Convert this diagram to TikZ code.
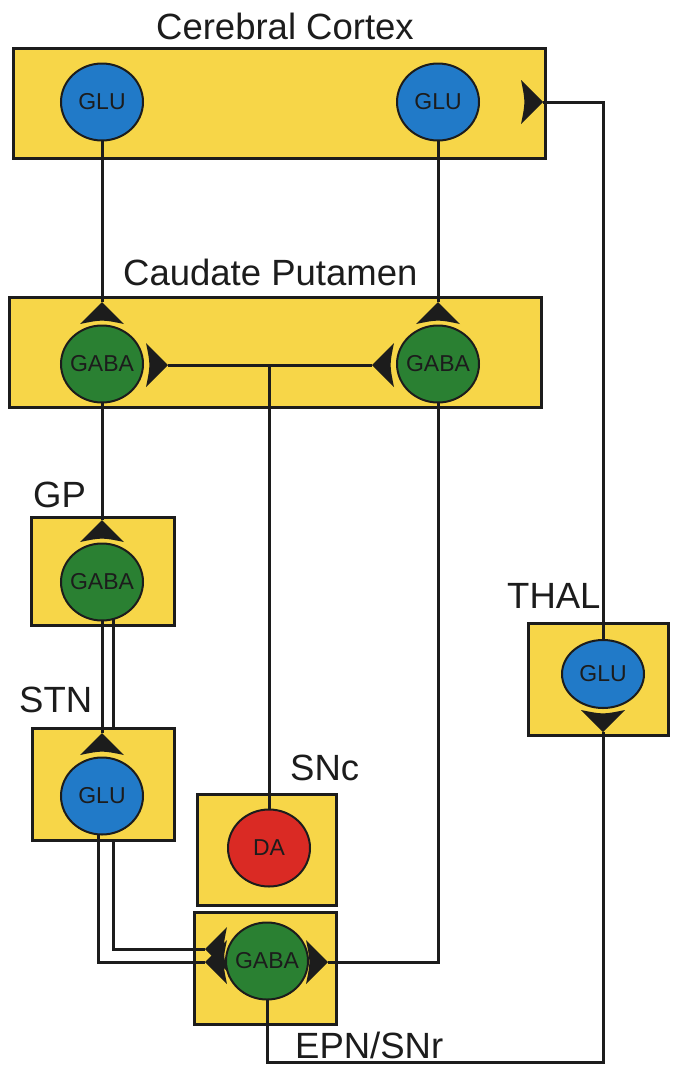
\documentclass[tikz,border=0pt]{standalone}
\usepackage{fontspec}
\setmainfont{Liberation Sans}
\usetikzlibrary{shapes.geometric,calc}
\definecolor{boxyellow}{RGB}{247,214,72}
\definecolor{glublue}{RGB}{33,122,200}
\definecolor{gabagreen}{RGB}{42,128,50}
\definecolor{dared}{RGB}{218,42,36}
\definecolor{ink}{RGB}{28,28,28}
\newcommand\ntext[1]{\makebox[0pt]{#1}}
\tikzset{
  box/.style={draw=ink, line width=3bp, fill=boxyellow, inner sep=0pt, outer sep=0pt},
  neuron/.style={ellipse, draw=ink, line width=2bp, inner sep=0pt, outer sep=0pt,
    minimum width=82bp, minimum height=77bp, font=\fontsize{23bp}{26bp}\selectfont, text=ink},
  title/.style={font=\fontsize{36.5bp}{40bp}\selectfont, inner sep=0pt, anchor=base west, text=ink},
  wire/.style={line width=3bp, draw=ink},
  term/.pic={\fill[ink] (0,0) -- (-22,-22) .. controls (-17.5,0) .. (-22,22) -- cycle;}
}
\begin{document}
\begin{tikzpicture}[x=1bp,y=-1bp]
\fill[white] (0,0) rectangle (674,1066);
\useasboundingbox (0,0) rectangle (674,1066);

% boxes
\node[box, minimum width=531bp, minimum height=110bp] (ctxbox) at (279.5,103) {};
\node[box, minimum width=531bp, minimum height=110bp] (cpbox) at (275.5,352) {};
\node[box, minimum width=142bp, minimum height=108bp] (gpbox) at (103,571) {};
\node[box, minimum width=141bp, minimum height=112bp] (stnbox) at (103.5,784) {};
\node[box, minimum width=139bp, minimum height=111bp] (sncbox) at (266.5,849.5) {};
\node[box, minimum width=142bp, minimum height=112bp] (epbox) at (265,968) {};
\node[box, minimum width=140bp, minimum height=112bp] (thbox) at (598,679) {};

% neuron positions
\coordinate (pc1) at (102,102);
\coordinate (pc2) at (438,102);
\coordinate (pg1) at (102,364);
\coordinate (pg2) at (438,364);
\coordinate (pgp) at (102,582);
\coordinate (pstn) at (102,796);
\coordinate (pda) at (269,848);
\coordinate (pep) at (267,961);
\coordinate (pth) at (603,674);

% neurons (invisible first so wires can refer to them)
\node[neuron, draw=none] (c1) at (pc1) {};
\node[neuron, draw=none] (c2) at (pc2) {};
\node[neuron, draw=none] (g1) at (pg1) {};
\node[neuron, draw=none] (g2) at (pg2) {};
\node[neuron, draw=none] (gp) at (pgp) {};
\node[neuron, draw=none] (stn) at (pstn) {};
\node[neuron, draw=none] (da) at (pda) {};
\node[neuron, draw=none] (ep) at (pep) {};
\node[neuron, draw=none, minimum height=68bp] (th) at (pth) {};

% terminal tips
\coordinate (tc) at (543,102);
\coordinate (tg1) at (102,302);
\coordinate (tg2) at (438,302);
\coordinate (tg1r) at (168,365);
\coordinate (tg2l) at (372,365);
\coordinate (tgp) at (102,520);
\coordinate (tstn) at (102,733);
\coordinate (tth) at (603,732);
\coordinate (te1) at (205,949);
\coordinate (te2) at (205,962);
\coordinate (ter) at (328,962);
\coordinate (bl) at (267,1062);

% wires
\draw[wire] (c1) -- (tg1);
\draw[wire] (c2) -- (tg2);
\draw[wire] (th) |- (tc);
\draw[wire] (ep) -- (bl) -| (tth);
\draw[wire] (tg1r) -- (tg2l);
\draw[wire] (da) -- (da.north |- tg1r);
\draw[wire] (g1) -- (tgp);
\draw[wire] (g2) |- (ter);
\draw[wire] (gp) -- (tstn);
\draw[wire] (gp.-72) -- (gp.-72 |- stnbox.north);
\draw[wire] (gp.-72 |- stnbox.south) |- (te1);
\draw[wire] (stn.-95) |- (te2);

% neurons drawn
\node[neuron, fill=glublue] (nc1) at (pc1) {\ntext{GLU}};
\node[neuron, fill=glublue] (nc2) at (pc2) {\ntext{GLU}};
\node[neuron, fill=gabagreen] (ng1) at (pg1) {\ntext{GABA}};
\node[neuron, fill=gabagreen] (ng2) at (pg2) {\ntext{GABA}};
\node[neuron, fill=gabagreen] (ngp) at (pgp) {\ntext{GABA}};
\node[neuron, fill=glublue] (nstn) at (pstn) {\ntext{GLU}};
\node[neuron, fill=dared] (nda) at (pda) {\ntext{DA}};
\node[neuron, fill=gabagreen] (nep) at (pep) {\ntext{GABA}};
\node[neuron, fill=glublue, minimum height=68bp] (nth) at (pth) {\ntext{GLU}};

% terminals
\pic at (tc) {term};
\pic[rotate=90] at (tg1) {term};
\pic[rotate=90] at (tg2) {term};
\pic at (tg1r) {term};
\pic[rotate=180] at (tg2l) {term};
\pic[rotate=90] at (tgp) {term};
\pic[rotate=90] at (tstn) {term};
\pic[rotate=-90] at (tth) {term};
\pic[rotate=180] at (te1) {term};
\pic[rotate=180] at (te2) {term};
\pic at (ter) {term};

% labels
\node[title, anchor=base] (lctx) at (285,39) {Cerebral Cortex};
\node[title] (lcp) at (123,285) {Caudate Putamen};
\node[title] (lgp) at (33,507) {GP};
\node[title] (lstn) at (19,712) {STN};
\node[title] (lth) at (507,608) {THAL};
\node[title] (lsnc) at (290,780) {SNc};
\node[title] (lep) at (295,1058) {EPN/SNr};
\end{tikzpicture}
\end{document}
